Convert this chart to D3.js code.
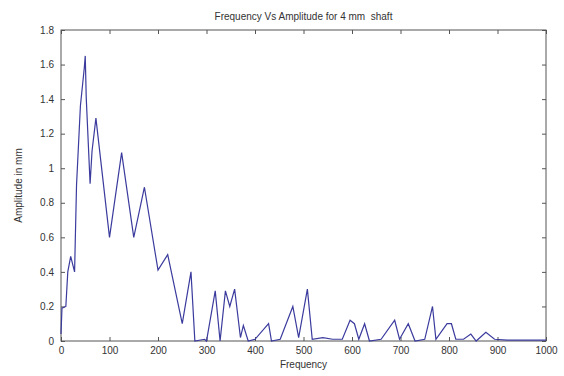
<!DOCTYPE html>
<meta charset="utf-8">
<head>
  <title>Frequency Vs Amplitude</title>
</head>
<style>
  body { margin: 0; background: #fff; }
  text { font-family: "Liberation Sans", Arial, sans-serif; fill: #333; }
</style>
<body>
  <svg width="564" height="376"></svg>
  <script src="https://cdn.jsdelivr.net/npm/d3@7"></script>
  <script>
// data
var freq = [0, 2, 10, 14, 20, 28, 32, 40, 48, 50, 52, 60, 64, 72, 100, 125, 150, 172, 200, 220, 250, 268, 276,
            296, 300, 318, 328, 339, 348, 358, 370, 376, 386, 400, 428, 434, 452, 478, 490, 508, 518,
            540, 560, 580, 596, 605, 614, 626, 636, 660, 688, 698, 716, 730, 750, 766, 773, 796, 805, 814,
            830, 845, 856, 876, 894, 920, 960, 1000];
var amp = [0.04, 0.19, 0.2, 0.4, 0.49, 0.4, 0.9, 1.36, 1.58, 1.65, 1.41, 0.91, 1.1, 1.29, 0.6, 1.09, 0.6, 0.89, 0.41, 0.5, 0.1, 0.4, 0,
           0.01, 0, 0.29, 0, 0.29, 0.2, 0.3, 0.02, 0.09, 0, 0.01, 0.1, 0, 0.01, 0.2, 0.02, 0.3, 0.01,
           0.02, 0.01, 0.01, 0.12, 0.1, 0.01, 0.1, 0, 0.01, 0.12, 0.01, 0.1, 0, 0.01, 0.2, 0.01, 0.1, 0.1, 0.01,
           0.01, 0.04, 0, 0.05, 0.01, 0.005, 0.005, 0.005];
var xTicks = [0, 100, 200, 300, 400, 500, 600, 700, 800, 900, 1000];
var yTicks = [0, 0.2, 0.4, 0.6, 0.8, 1, 1.2, 1.4, 1.6, 1.8];

var svg = d3.select("svg");
var mLeft = 61, mRight = 546, mTop = 30, mBottom = 341;

var x = d3.scaleLinear().domain([0, 1000]).range([mLeft, mRight]);
var y = d3.scaleLinear().domain([0, 1.8]).range([mBottom, mTop]);

// ticks inside, MATLAB style
function styleAxis(g) {
  g.select(".domain").remove();
  g.selectAll("line").attr("stroke", "#555");
  g.selectAll("text").attr("font-size", "10px").attr("fill", "#444");
}

svg.append("g").attr("transform", "translate(0," + mBottom + ")")
  .call(d3.axisBottom(x).tickValues(xTicks).tickSize(-4).tickPadding(6).tickFormat(d3.format("d")))
  .call(styleAxis);
svg.append("g").attr("transform", "translate(0," + mTop + ")")
  .call(d3.axisTop(x).tickValues(xTicks).tickSize(-4).tickFormat(""))
  .call(styleAxis);
svg.append("g").attr("transform", "translate(" + mLeft + ",0)")
  .call(d3.axisLeft(y).tickValues(yTicks).tickSize(-4).tickPadding(7).tickFormat(d3.format("~g")))
  .call(styleAxis);
svg.append("g").attr("transform", "translate(" + mRight + ",0)")
  .call(d3.axisRight(y).tickValues(yTicks).tickSize(-4).tickFormat(""))
  .call(styleAxis);

svg.append("rect")
  .attr("x", mLeft).attr("y", mTop)
  .attr("width", mRight - mLeft).attr("height", mBottom - mTop)
  .attr("fill", "none").attr("stroke", "#555").attr("stroke-width", 1);

var line = d3.line()
  .x(function(d, i) { return x(freq[i]); })
  .y(function(d) { return y(d); });

svg.append("path")
  .datum(amp)
  .attr("d", line)
  .attr("fill", "none")
  .attr("stroke", "#3b3b9e")
  .attr("stroke-width", 1.2);

svg.append("text")
  .attr("x", (mLeft + mRight) / 2).attr("y", 20)
  .attr("text-anchor", "middle").attr("font-size", "10px")
  .style("white-space", "pre")
  .text("Frequency Vs Amplitude for 4 mm  shaft");

svg.append("text")
  .attr("x", (mLeft + mRight) / 2).attr("y", 368)
  .attr("text-anchor", "middle").attr("font-size", "10px")
  .text("Frequency");

svg.append("text")
  .attr("transform", "translate(22," + ((mTop + mBottom) / 2) + ") rotate(-90)")
  .attr("text-anchor", "middle").attr("font-size", "10px")
  .text("Amplitude in mm");
  </script>
</body>
</html>
